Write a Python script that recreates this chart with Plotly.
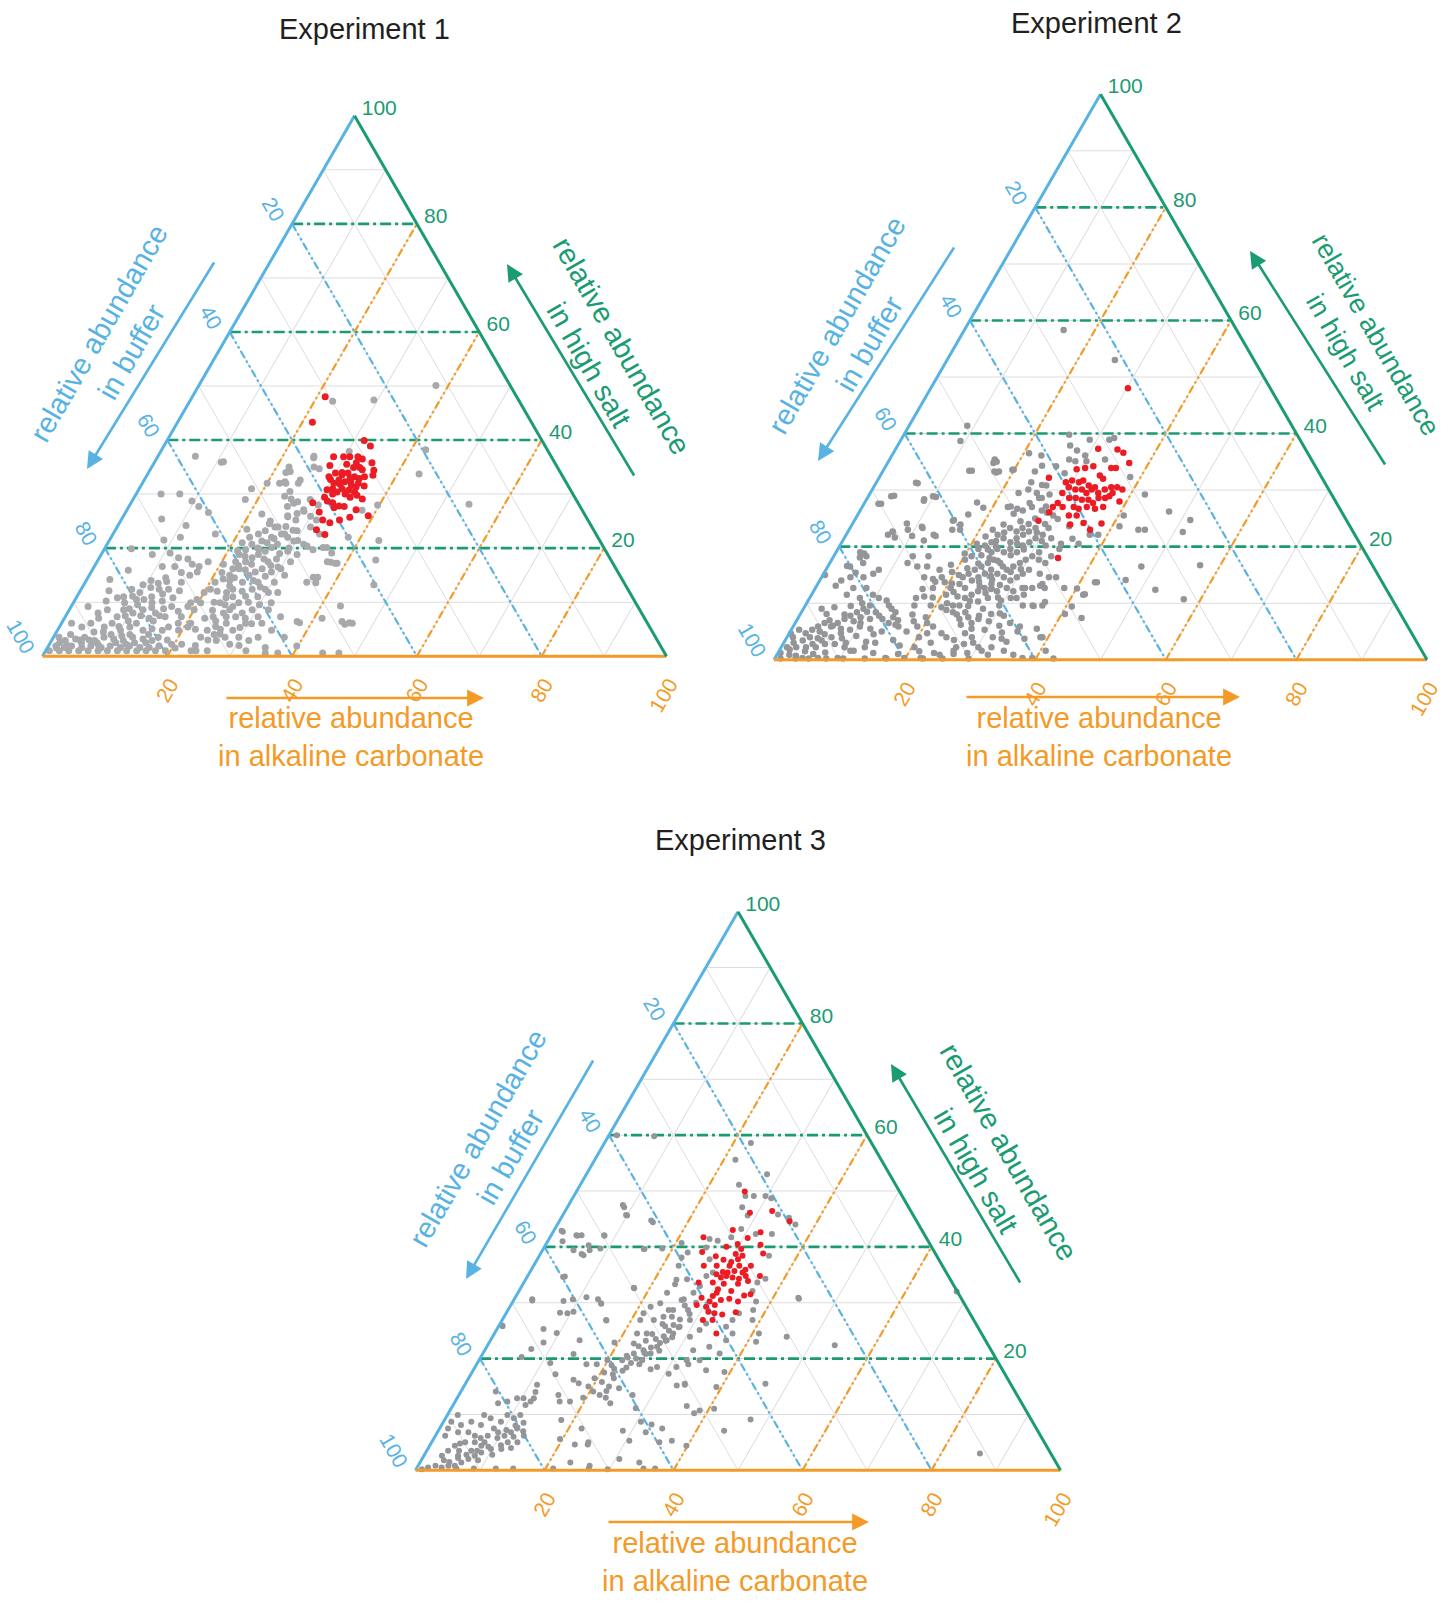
import plotly.graph_objects as go

W, H = 1453, 1607

BLUE = "#58B3E3"
GREEN = "#1B9B72"
ORANGE = "#F39A27"
RED = "#EC1C24"
GREY_LIGHT = "#A7A9AC"
GREY_DARK = "#939598"
GRID = "#DDDDDD"
FONT = "Liberation Sans, Arial, Helvetica, sans-serif"

# ---------------------------------------------------------------- data
# each entry: (relative abundance in high salt, relative abundance in alkaline carbonate)
# buffer is the remainder to 100

GUIDE_LEVELS = [20, 40, 60, 80]
GRID_TICKS = [0, 10, 20, 30, 40, 50, 60, 70, 80, 90]
BUFFER_TICK_TEXT = [str(100 - v) if v % 20 == 0 else "" for v in GRID_TICKS]
CARBONATE_TICK_TEXT = [str(100 - v) if v % 20 == 0 else "" for v in GRID_TICKS]
SALT_TICK_TEXT = [str(100 - v) if v % 20 == 0 else "" for v in GRID_TICKS]

EXP1_GREY = [
    (37, 6), (36, 11), (35, 22), (34, 22), (37, 25), (32, 22), (32, 23), (32, 25), (35, 26), (32, 20),
    (31, 18), (29, 18), (30, 4), (30, 7), (28.7, 9.6), (27.7, 11.2), (26.6, 13.3), (25.4, 6.4), (24.2, 10.9),
    (22.6, 16.4), (21.5, 8.7), (22, 11.1), (26.3, 22), (24.5, 24.1), (23.9, 25.3), (29.6, 24), (27.7, 25.4),
    (28.3, 26.1), (26.4, 27.6), (29, 28.4), (28, 30.2), (25.8, 26.4), (26.8, 28.5), (25.2, 31.3), (23.2, 29.2),
    (23.9, 31), (22.6, 33.1), (22.6, 27.5),
    (22.6, 23.3), (23.2, 24.1), (22, 25.7), (21.3, 24.5), (20.7, 23.2), (19.7, 22.7), (18.8, 22.1), (17.5, 22.2),
    (16.2, 22.4), (15, 22.5), (14.3, 21.8), (13.7, 20.8), (12.4, 20.7), (16.2, 23.4), (17.5, 23.8), (18.2, 24.5),
    (18.8, 25.2), (19.4, 26), (20.1, 26.7), (20.7, 27.3), (17.5, 27.4), (16.2, 27.1), (15.6, 26.3), (15, 25.6),
    (13.7, 25.2), (12.4, 24.3), (11.8, 23.6), (9.9, 23.5), (8.6, 25.7), (7.3, 27.3), (6.1, 26.4), (4.8, 28.1),
    (4.1, 26.4), (3.5, 29.7), (2.2, 28.9), (2.9, 26.4), (1, 25.9), (1, 32.1), (1.6, 34.9), (6.1, 32.1),
    (9.9, 31.7), (11.8, 31.8), (12.4, 29.5), (15, 31.3), (17.5, 31), (18.8, 31.4), (19.4, 29.6), (20.7, 31.5),
    (21.3, 29.6), (16.2, 30.1), (13.7, 30.3), (11.8, 30.3), (13.7, 27.7), (12.4, 27.4), (11.1, 27), (9.9, 26.5),
    (9.2, 25.9), (8.6, 29.3), (6.1, 29.5), (4.8, 34.3), (3.5, 32.8), (2.9, 31.6), (8, 25), (7.3, 23.7), (4.8, 24),
    (3.5, 23.6), (8.6, 20), (6.1, 20.7), (9.9, 20.4), (11.8, 20), (10.5, 19.5), (9.2, 18.7), (7.3, 18.6),
    (4.8, 19.4), (2.2, 19.6), (2.2, 21.2), (1, 23.3), (1, 24.1),
    (19.9, 4.3), (18.8, 8.2), (19.1, 10.9), (18.2, 12.7), (18, 14.3), (16.6, 10.9), (15.9, 5.8), (16.6, 12.9),
    (16.6, 16.8), (15.6, 17), (17.5, 17.8), (14, 10.4), (13.8, 13), (13.7, 15.4), (15, 16.1), (14.2, 3.7),
    (12.1, 4.6), (12.4, 8.1), (11.1, 8.9), (11.8, 9.7), (12.7, 11), (12.4, 12.5), (12.4, 14), (12.1, 15.9),
    (10.2, 5.1), (10.8, 6.6), (9.9, 8.2), (10.5, 9.8), (9.9, 12.6), (10.2, 14.1), (9.2, 16.1), (8.3, 17.6),
    (9.9, 18.8), (9.2, 2.7), (8, 4.9), (8.6, 6.1), (7.3, 8.3), (8.6, 8.7), (8, 10.5), (8.6, 11.8), (7, 13.6),
    (8, 14.1), (7.3, 16), (6.1, 1.6), (5.4, 3.6), (6.1, 4.7), (5.4, 7.2), (6.1, 8.1), (4.8, 10.1), (5.4, 11.3),
    (6.1, 12), (4.8, 13.7), (5.1, 15), (4.8, 16.8), (5.4, 17.5), (6.1, 18.7), (5.4, 20.6),
    (3.5, 0.9), (2.9, 2.2), (3.2, 3.7), (3.5, 5), (2.9, 6.9), (3.5, 8.1), (3.2, 9.8), (2.9, 11.5), (3.5, 12.7),
    (3.2, 14.5), (2.9, 16.1), (1.9, 1.2), (1.6, 2.7), (1.9, 3.7), (1.6, 5.5), (1.9, 6.8), (1.6, 8.6), (1.9, 9.9),
    (1.6, 11.7), (1.9, 13), (1.6, 14.8), (1.6, 16.3), (1.9, 17.7), (1, 0.6), (1, 2.2), (1, 3.7), (1, 5.3),
    (1, 6.8), (1, 8.4), (1, 9.9), (1, 11.5), (1, 13), (1, 14.6), (1, 16.1), (1, 17.6), (1, 19.2),
    (2.5, 1.5), (4, 2.5), (3, 4.5), (4.5, 6), (2.5, 7.5), (4, 9), (2.5, 10.5), (4, 12), (2.5, 13.5), (4, 15),
    (7, 5.5), (7.5, 9.5), (9, 13), (11, 12), (3, 18.5), (1.5, 20.5), (5, 22), (7, 22.5), (10, 22.5), (12, 22),
    (14, 23), (17, 25), (18, 26.5), (20, 24.5), (21, 25.5), (16, 24.5), (13, 23.5), (11, 25), (10, 28), (8, 28),
    (6, 30.5), (5, 26), (3, 25), (2, 23.5), (3.5, 27.5), (2, 30.5), (17, 20.5), (19.5, 21.5), (21, 21.5),
    (23.5, 21), (25, 24), (24, 27), (20, 29.5), (18, 28.5), (16.5, 29.5),
    (1.5, 1.5), (2, 3), (2.5, 5), (3, 6), (2, 8), (4.5, 7.5), (3.8, 10.8), (2.2, 12.3), (5.5, 9.5), (6.5, 10.5),
    (7.5, 12), (6.5, 14.5), (3.5, 16.8), (2.5, 15.3), (7.5, 15), (8.8, 15), (10.8, 15.5), (11.5, 13.5),
    (10.5, 11), (9.5, 10.5), (8.8, 9.5), (11, 7.5), (13.2, 9.5), (13.5, 11.8), (14.5, 12.5), (15.5, 14.5),
    (17, 15.5), (15.5, 21), (14.5, 23.5), (16.8, 23), (18.5, 23.2), (19.8, 24.8), (21.8, 26.2), (22, 22.2),
    (14, 26.8), (12, 26), (10.8, 24), (9.5, 24.5), (8.5, 23), (7.3, 25.8), (6.5, 24.5), (5.5, 25), (4, 25.5),
    (5.3, 29), (7, 29), (9.5, 30), (11, 29), (12.8, 28.5), (14.8, 28.3), (16.8, 28.2), (19, 28.5),
    (0.6, 35.4), (0.6, 37.4), (1.9, 39.8), (0.6, 44.6), (0.6, 47.2), (6.4, 37.6), (7, 41.3), (6.4, 44.8),
    (6.2, 46.1), (17.4, 37.5), (17.2, 38.3), (14.6, 36.1), (13.7, 35.5), (20.1, 34.9), (7.3, 30.9), (8.6, 31.9),
    (3.5, 37), (7.3, 34.5), (15.6, 28.9),
    (47.2, 22.9), (47.4, 29.4), (50.1, 38), (38.2, 42.3), (33.7, 43.5), (28.1, 54.3), (28, 39.7), (36.7, 25.1),
    (34.7, 27), (34.2, 22.6), (32.6, 25), (32.3, 22.7), (30.5, 24.4), (29.1, 25.3), (28.6, 26.6), (27.1, 28.3),
    (26, 26.3), (25.2, 28), (25.9, 30), (37.9, 30.2), (27, 37.7), (22, 38), (21.4, 43.2), (17.8, 44.5),
    (13.2, 46.5), (9.3, 43.1), (5.9, 45.5), (6.1, 46.6), (6.2, 38.1), (13.6, 37), (14.6, 36.8),
    (17.5, 36.9), (17.2, 38.6), (19.1, 36.8), (21.4, 30.2), (20.4, 32.2), (19.7, 33.5), (20.1, 35.5), (22, 28.3),
    (23.3, 28.5), (23.9, 25.8), (22.6, 27), (35.9, 10.7),
]

EXP1_RED = [
    (48, 21.3), (43.3, 21.6), (39.9, 31.6), (38.9, 33.1), (36.9, 28.2), (36.9, 29.8), (36.9, 30.8), (36.9, 32.1),
    (36.5, 33), (35.8, 34.9), (34.4, 35.9), (34.9, 32.4), (34.9, 33.4), (35.8, 32.4), (35.3, 28.4), (33.9, 30),
    (33.6, 31.2), (33.9, 32), (33.2, 33.4), (32.9, 34.3), (33.2, 35), (33.2, 29.3), (32, 30.7), (32.6, 31.2),
    (32.3, 32.3), (31.6, 33.7), (31.3, 34.6), (31, 32.5), (30.7, 33.7), (30.4, 34.8), (32, 34.6), (31, 31),
    (30.4, 32), (30, 33.5), (29.4, 34.6), (29.1, 36.7), (29.4, 30.5), (28.7, 31.3), (28.4, 32.3), (28.4, 29.1),
    (27.5, 33), (27.8, 33.6), (27.7, 34.5), (27.1, 36.7), (26.7, 31), (25.2, 32.3), (24.7, 33.7), (25.2, 35),
    (25.7, 36.4), (26, 39.2), (23.4, 32.2), (22.5, 34), (34, 31), (33, 32.8), (32.4, 33.2), (31.8, 31.8),
    (30.8, 30.2), (34.5, 34), (35.5, 31), (32.7, 29.8), (30, 31.5), (31.5, 35.8), (29.8, 35.5), (33.5, 36.2),
]

EXP2_GREY = [
    (41.4, 8.9), (38.7, 9.2), (35.3, 16.2), (33.1, 17.5), (33.4, 13.2), (33.6, 19.9), (36.5, 20.8), (36.1, 22.9),
    (33.3, 23.3), (31.4, 23.7), (30.9, 25.6), (31.3, 6.1), (28.9, 3.5), (27.6, 2.2), (28.4, 8.8), (28.9, 9.9),
    (29.5, 22.7), (27.1, 22.7), (25.8, 23.8), (26.4, 24.9), (27.7, 25.3), (28.6, 26.3), (27.1, 28.1), (25.7, 16.9),
    (24.6, 15.1), (23.9, 16.6), (23, 15.8), (24.1, 8.3), (23.5, 10.9), (22.1, 13.4), (21.1, 12.4), (22.1, 6.4),
    (22.7, 6.8),
    (23.9, 23.2), (23.3, 24.5), (22.7, 25.8), (23.3, 26.4), (22.1, 23.2), (21.5, 24.4), (20.8, 25.8), (21.5, 26.4),
    (22.1, 27.1), (22.7, 27.7), (23.3, 28.4), (20.8, 22.9), (20.2, 22.2), (19.6, 21.5), (18.3, 21.1), (17.7, 20.4),
    (19, 23.8), (19.6, 24.4), (19, 25.7), (19.6, 26.4), (19, 27.7), (20.2, 28), (20.8, 28.7), (21.5, 29.3),
    (22.1, 30.1), (23.3, 30.4), (21.5, 31.7), (20.2, 31.5), (19, 31.1), (18.3, 30.4), (17.7, 29.7), (17.1, 29.1),
    (16.5, 28.4), (15.9, 27.7), (17.1, 26.1), (17.7, 24.8), (17.1, 24.2), (16.5, 23.5), (15.9, 22.8), (15.2, 22.2),
    (14.6, 21.6), (13.4, 21.7), (12.7, 22.9), (14, 23.3), (14.6, 24), (15.2, 24.7), (15.9, 25.3), (15.2, 26.6),
    (14.6, 27.9), (14, 29.2), (14.6, 29.9), (15.2, 30.5), (15.9, 31.1), (13.4, 26.6), (12.7, 25.9), (12.1, 25.2),
    (11.5, 24.5), (10.9, 23.8), (9.6, 23.6), (10.3, 26.1), (10.9, 27.3), (12.1, 28.1), (12.7, 29.3), (12.1, 30.6),
    (10.9, 31.7), (12.7, 31.7), (17.7, 31.7), (17.1, 33), (14.6, 34.8), (13.4, 34.4), (12.7, 33.2), (18.3, 33.3),
    (15.9, 17.4), (14.6, 18.4), (12.7, 20.7), (13.7, 19.3), (14.3, 17.2), (14.6, 15.7), (16.5, 13.7), (17.1, 11.9),
    (18.3, 12.1), (16.5, 15.2), (18.3, 14.5), (12.7, 18), (11.2, 17.4), (10.9, 16.3), (9.6, 16.7), (9.6, 19.2),
    (9.3, 21), (9.6, 22.6), (11.5, 20.6), (8.4, 23.2), (7.2, 24.8), (8.4, 25.1), (6.5, 27), (7.2, 27.7),
    (5.3, 29.6), (8.1, 29.2), (9.6, 29.7), (7.8, 31.3), (6.5, 32.9), (5.9, 34.7), (9.6, 33.3), (9.6, 34.8),
    (13.1, 34.2), (9.6, 36.3), (4, 38.8), (1.6, 40.8), (0.3, 39.4), (0.3, 37.9), (0.9, 36.2), (1.6, 34.4),
    (2.2, 32.2), (0.9, 32.3), (2.2, 30.2), (4, 28.3), (4.7, 26.9), (2.2, 26.8), (4, 24.4), (4.7, 23.3),
    (5.9, 21.4), (6.5, 20.2), (0.9, 24.9), (0.3, 22.3), (0.3, 19.8), (0.3, 16.9), (2.2, 20.4), (4.7, 21.1),
    (5.9, 19), (5.9, 16.1),
    (24.5, 25.5), (24, 27), (23, 22), (22.5, 24), (21, 23.5), (20, 24), (19.5, 23), (18.5, 22.5), (18, 24),
    (17.5, 25.5), (18.5, 27), (19.5, 28.5), (20.5, 27), (21, 30.5), (22.5, 29), (24, 29.5), (25, 27.5),
    (25.5, 30), (26, 28.8), (16.5, 26.8), (16, 29.8), (15.5, 28.5), (14.8, 25.8), (14.2, 26.3), (13.8, 24.5),
    (13, 25), (13.2, 28), (12.5, 27), (11.8, 26.5), (11, 28.8), (10.5, 29.5), (11.5, 32.5), (11.2, 22.5),
    (12, 21.5), (13.5, 20.5), (15, 20.8), (16.2, 21.5), (17, 22.8), (18.8, 19.8), (20.5, 20.8), (21.8, 21.5),
    (16.8, 18.7), (15.5, 19.5), (13.8, 17.8), (12.5, 16.5), (11, 18.8), (10, 21.5), (8.8, 22), (8, 24),
    (7.5, 26), (6.2, 25.5), (5.5, 27.5), (6.8, 29.5), (7.8, 27.5), (9, 27.5), (9.5, 25), (10.4, 24.8),
    (8.2, 30.5), (6, 31.5), (4.8, 32.5), (3.2, 34), (3, 29), (2.8, 27.7), (1.2, 29), (1, 27), (3.5, 25.8),
    (3, 22.5), (1.5, 21.5), (4, 20.2), (6.8, 18), (8, 17.2), (7.5, 19.5), (7, 15.5), (5, 17.8), (3.5, 16.5),
    (2.5, 18), (1.2, 14.6), (1, 18.5), (3, 14), (4.5, 13),
    (4.6, 0.3), (4, 0.9), (5.3, 1.2), (4.7, 2.5), (5.3, 3.2), (5.9, 3.8), (6.5, 4.5), (5.9, 5.8), (6.5, 6.5),
    (7.2, 7.2), (7.8, 7.8), (8.4, 8.5), (9, 9.2), (9.6, 9.9), (8.4, 11.4), (7.2, 13), (6.5, 14.3), (6.2, 15.5),
    (3.4, 2.7), (2.8, 4.5), (3.4, 5.6), (4, 6.8), (4.7, 7.9), (5.3, 9), (5.9, 10.2), (7.2, 11.1), (7.8, 12.2),
    (2.2, 0.9), (2.2, 2.3), (2.2, 3.8), (2.2, 5.3), (2.8, 6.4), (2.8, 7.9), (2.2, 9.7), (1.6, 11.4), (1.2, 0.4),
    (0.9, 1.9), (0.3, 4.2), (0.3, 6.6), (0.3, 9.6), (1.6, 10.9), (9, 2.8), (8.1, 4), (9.3, 4.6), (11.5, 5.4),
    (12.7, 5.8), (10.9, 7.7), (12.7, 7.8), (11.5, 9.4), (10.9, 10.6), (9.6, 12.8), (8.4, 14.4), (14, 3.3),
    (14.6, 4.4), (14.6, 6.4), (15.2, 7.6), (15.9, 8.1), (17.1, 5.1), (16.5, 3.4), (18.3, 5), (19, 3.7),
    (15, 0.3), (13.1, 2.9),
    (3, 1.5), (4, 3.5), (5, 4.5), (6, 6), (7, 5), (8, 6.8), (6.8, 8.8), (5.5, 7.5), (4.5, 5.5), (3.8, 8.5),
    (3, 9.5), (4.2, 10.5), (5.5, 12), (6.5, 10), (7.5, 9.5), (8.5, 10), (9.5, 7), (10, 8.5), (10.5, 12),
    (9, 13.5), (7.5, 14.5), (5, 14), (3.2, 12.5), (2.2, 12.8), (1.3, 7.2), (1, 5.5), (0.7, 3), (1.8, 1.5),
    (1.5, 4), (3.8, 4.8),
    (58.3, 15.2), (53, 25.7), (39.8, 25.3), (38.9, 28.9), (38.9, 31.9), (39.2, 32.5), (37.9, 26.4), (37, 27.9),
    (36.1, 29.6), (35.4, 27.5), (35.4, 33), (35.1, 28.6), (35.1, 30.3), (35.4, 16.1), (34.8, 16.2), (33.3, 17.1),
    (33.6, 19.7), (34.2, 26.1), (33, 28), (30.8, 26.3), (30.1, 23.9), (29.5, 25.5), (29.2, 27.6), (28.6, 26.7),
    (27, 22.3), (26.7, 23.9), (27, 26), (26.4, 27.8), (24.9, 31), (23.6, 33.4), (21.4, 35), (20.5, 36.4),
    (20.5, 33.7), (19.6, 33.9), (22.1, 37.3), (22.1, 38.6), (23.6, 41.1), (25.5, 40.8), (32.3, 38.4),
    (29.2, 42.2), (23, 44.3), (23, 45.3), (26.2, 47.4), (24.7, 51.4), (22.6, 51.3), (16.5, 48), (13.7, 42.3),
    (14.1, 46.8), (12.4, 52.2), (10.7, 57.4), (16.7, 56.9), (11.5, 41.6), (12.7, 38.1), (12.7, 35.1),
    (14.6, 35.9), (15.2, 33.1), (12.7, 32.1), (10.9, 30.8),
    (7.4, 43.4), (9.4, 40.9), (10.2, 36.4), (9.5, 35), (5.5, 37.5), (4, 39.1), (0.2, 42.7), (8.1, 40.5),
    (13.7, 42.6), (11.6, 41.8), (12.6, 40.1), (5, 34.8), (3.7, 36.5), (3.7, 33), (4, 31.5), (1.6, 31),
    (0.2, 29.7), (1.6, 26.7), (0.2, 25.7), (1.2, 23.9), (0.2, 22.7), (0.2, 17.1), (0.2, 13.8), (0.2, 10.5),
    (0.2, 7.9), (0.2, 5.2), (0.2, 3.2), (0.2, 0.9), (31.2, 6.4), (29, 3.9), (27.6, 2.6), (28.8, 10.4),
    (28.1, 8.9), (33.4, 13.6), (35, 16.6), (33.3, 17.8), (34.3, 23.9), (27.8, 17.2), (26.9, 18.6), (24.7, 15.2),
    (23, 17), (23, 9), (21.9, 10.2), (23.3, 11.1), (21.9, 13.8), (22.6, 6.9), (21.6, 7.7), (18.8, 4.4),
    (18.1, 4.1), (16.6, 2.9), (15.4, 4.8),
]

EXP2_RED = [
    (48, 30.2), (37.3, 31), (37.2, 34), (34.8, 37), (36.6, 35.2), (33.7, 29.5), (33.9, 30.7), (34.2, 31.8),
    (33.9, 34.7), (33.9, 35.4), (32.2, 26), (32.6, 33.6), (32, 34.4), (31.4, 29), (31.7, 29.8), (31.4, 31),
    (31.7, 31.5), (30.8, 32.8), (30.5, 33.9), (30.5, 29.9), (30.1, 31.1), (30.1, 32.1), (29.5, 33.1),
    (30.1, 33.6), (29.5, 34.9), (30.1, 35.6), (30.5, 36.4), (30.5, 37.3), (30.1, 38.3), (29.5, 37.1),
    (29.5, 29.4), (28.6, 30.9), (28.6, 31.9), (28.3, 33), (28.3, 34), (27.7, 35), (28.6, 35.4), (28.6, 36.4),
    (28.9, 36.9), (28, 38.9), (27.7, 29.6), (27, 29.2), (26.1, 29.1), (27, 30.7), (27, 32.4), (26.7, 33.3),
    (27, 34.4), (26.7, 35.8), (27, 36.9), (25.5, 32.4), (25.5, 33.6), (24.6, 28.2), (23.9, 33.4), (24.2, 35.3),
    (23, 36.9), (24.1, 38.1), (18, 34.5),
]

EXP3_GREY = [
    (60, 1.2), (59.8, 7.1), (58.6, 22.7), (55.6, 21.8), (53, 28), (51.1, 24.6), (49.1, 26.6), (49.1, 27.9),
    (49.1, 29.7), (48.7, 30.8), (47.1, 27.1), (45.6, 28.7), (45.8, 33.3), (45.2, 35.3), (44, 36.9), (43.2, 28.9),
    (41.7, 28.1), (42.3, 34.1), (42.3, 31.6), (41.4, 24.9), (41.1, 26.3), (38.4, 35.6), (34.3, 37.1),
    (33.6, 36.2), (32.1, 36.2), (30.2, 37.7), (28.7, 38), (24.5, 41), (23.9, 45.6), (30.9, 43.9), (22.4, 53.8),
    (23, 41.3), (15.5, 46.5), (9.1, 47.4), (24.5, 36.9), (23.3, 36.5), (17.6, 39.1), (14.9, 39.2), (10.7, 38.7),
    (11.5, 36.3), (15.2, 32.9), (15.5, 34), (17.3, 30.6), (18.5, 28.2), (19.7, 25.3), (20.9, 23.4), (20.2, 22.8),
    (19.7, 22.2), (18.2, 21.7), (19.7, 19.9), (42, 8.3), (29.9, 13.8), (26.9, 16.1), (47.1, 8.8), (45.6, 10),
    (32.7, 17.5), (39.6, 15.6), (40.7, 20.9), (44.4, 14.6), (34.1, 23.4), (33.3, 23.6), (34.2, 25),
    (31.8, 23.1), (29.9, 23), (29.3, 21.8), (28.1, 21.3), (26.9, 21.4), (26.9, 23.5), (27.5, 24.7), (28.7, 25.6),
    (30.6, 26.3), (31.8, 27.2), (33, 27.6), (26.9, 29.1), (25.7, 28.1), (24.5, 27.7), (23.3, 27.3), (22.1, 26.4),
    (20.9, 26), (21.5, 24.6), (24.5, 23.6), (24.5, 22.1), (22.7, 22.5), (23.9, 30.6), (25.1, 31.5), (26.3, 31.9),
    (36.6, 22.5), (38.1, 22.2), (39, 22.7), (39.9, 25.1), (37.8, 26.7), (34.8, 27.7), (35.4, 28.4), (19.7, 34.2),
    (17.9, 36.1), (19.7, 32.2), (18.5, 31.2), (21.5, 32.3), (22.1, 34.5), (20.9, 36.7), (25.7, 35.3),
    (26.9, 35.7), (28.1, 36.1), (26.9, 38.8),
    (42.9, 1.2), (42.1, 3.9), (42.1, 4.7), (42.1, 8.2), (40.3, 6.7), (39.6, 15.7), (39.7, 18.4), (47.5, 8.4),
    (45.7, 9.8), (44.7, 14.2), (38.7, 6.4), (34.7, 5.8), (32.6, 17.6), (30.6, 2.8), (30.3, 7.8), (30.6, 9.1),
    (31, 11), (30.6, 13), (29.8, 13.9), (28.2, 8.3), (28.1, 9.5), (28.4, 10.3), (26.8, 16.2), (25.8, 0.6),
    (25.3, 7.2), (24.6, 9.6), (22.9, 8.4), (23.3, 13.8), (22.9, 19.4), (21.7, 7.1), (20.3, 6.3), (19.2, 11.3),
    (20.8, 14.1), (19, 17), (19, 18.6), (17.2, 13.1), (16.2, 16.4), (15.6, 17.5), (15, 19.3), (14.1, 20.5),
    (13.5, 21.8), (15.3, 11.2), (14, 11.6), (13.5, 15.4), (12.3, 16.2), (12.3, 17.8), (14.1, 5.4), (12, 6.8),
    (12.3, 8.1), (12.9, 9.3), (12.9, 10.3), (12.9, 11.9), (11.7, 11.2), (12.3, 11.7), (9.9, 11.3), (9.3, 10.6),
    (9.9, 9.3), (8.7, 8.9), (7.5, 8.4), (6.2, 8.1), (5, 8.2), (6.8, 9.4), (6.2, 10.7), (6.8, 11.4), (7.5, 12),
    (6.2, 13.7), (5, 13.3), (5, 11.8), (3.8, 11.4), (3.8, 9.8), (3.2, 8.6), (2.6, 7.9), (2, 7.2), (1.4, 6.4),
    (0.8, 5.7), (0.8, 4.7), (0.5, 3.8), (0.8, 2.7), (0.5, 1.7), (0.2, 0.9), (6.2, 1.5), (7.5, 1.3), (6.8, 3.2),
    (8.1, 3), (6.8, 4.8), (6.2, 6.1), (5, 6.7), (5, 5.2), (4.4, 3.9), (3.5, 3.3), (2.6, 2.8), (2.6, 5.3),
    (3.5, 6.9), (4.4, 8), (8.7, 1.2), (9.9, 1.6), (8.7, 4.3), (9.9, 5.7), (9.3, 7), (8.1, 6.1), (9, 18.1),
    (7.5, 22), (5, 24.3), (5.6, 19.6), (1.4, 23.3), (0.8, 26.6), (0.2, 29.7), (2, 30.6), (1.4, 34), (5, 35.3),
    (7.5, 34.5), (6.8, 32.3), (11.1, 28.6), (13.5, 26.9), (14.7, 24.2), (17.2, 22), (19, 25.2), (18.4, 23.5),
    (18.1, 27.4), (21.4, 27.1), (23.8, 27.9), (26.2, 25.2), (28.7, 24.9), (30.5, 26), (28.7, 27.9), (25.6, 28),
    (23.2, 24.1), (24.4, 24.5), (23.2, 27.2), (20.8, 25.3), (19, 32.8), (15.3, 34.1),
    (1.5, 4.5), (2.2, 5.5), (1.8, 3.5), (2.8, 6.5), (3.5, 5), (4.8, 4.5), (5.8, 7.2), (4.2, 9.2), (4.5, 11),
    (5.8, 9.8), (7.2, 10.5), (8, 11.5), (8.5, 12.5), (7, 13.2), (6, 12.2), (4, 12.8), (3.5, 7.8), (2.8, 10.5),
    (1.8, 8.8), (20, 24.2), (21, 25), (22, 25.5), (22.8, 26.5), (24, 26.5), (25, 26.8), (26, 27), (27, 27.5),
    (28, 28.5), (29.5, 27), (30, 28.5), (27.5, 26), (25.8, 25.8), (23.5, 25.5), (22.2, 23.5), (20.5, 22.5),
    (18.8, 21), (17.5, 20.5), (16.5, 19.5), (15.8, 21), (16.5, 22.5), (17.8, 23.2), (19.2, 23.8), (15, 22.5),
    (14.2, 22.5), (13, 23), (12, 24.2), (13, 19.5),
    (30.7, 44.1), (32, 67.9), (7.1, 44.3), (11, 40.8), (3, 86), (4.4, 39.8), (10.2, 38.1), (5.3, 37.1),
    (0.3, 37), (0.3, 35.2), (0.3, 26.7), (0.3, 21.2), (0.3, 15), (0.3, 12.3), (0.3, 8.9), (0.3, 6.2),
    (4.6, 24.4), (4.6, 22.4), (5.3, 30.5), (7.1, 28.6), (8.7, 30.6), (8.2, 32.5), (42.7, 1.5), (41, 2.3),
    (42, 4.1), (39.4, 7.3), (39.7, 8.8), (38.5, 6.8), (39.4, 4.8), (34.6, 5.6), (30.4, 2.9), (25.9, 0.5),
]

EXP3_RED = [
    (49.9, 26.1), (46.1, 28.8), (46.4, 32.1), (44.6, 35.7), (43, 27.7), (42.6, 32.2), (41.7, 23.8), (41.6, 30.7),
    (40, 28.2), (40.5, 29.7), (40.4, 33.3), (39.1, 24.9), (39.6, 30.7), (38.7, 30.3), (38.4, 31.5), (38.8, 34.5),
    (38.3, 27.4), (37.7, 28.9), (37.3, 30.3), (37.8, 31.1), (36.6, 26.4), (36.6, 28.4), (36.6, 30.4),
    (36.6, 31.9), (36.6, 33.7), (35.9, 33.2), (35.5, 29.9), (35.4, 30.7), (35.7, 31.6), (35.4, 33), (35.1, 29.1),
    (34.5, 30.1), (34.8, 30.8), (34.5, 31.9), (34.3, 33), (34.8, 33.8), (34.8, 36), (33.6, 27.1), (33.6, 29.3),
    (33.4, 31.1), (33.4, 33.3), (33.9, 34.6), (32.4, 30.7), (32.1, 32.9), (31.5, 36.2), (31.3, 35.3),
    (31.8, 30.8), (31.2, 30.5), (30.9, 28.9), (30.2, 30.5), (30.5, 32.1), (30.7, 33.3), (30.2, 34.9),
    (29.6, 28.8), (29.3, 30.4), (29.6, 31.6), (28.4, 31.2), (28.1, 32.3), (27.9, 33.6), (28.3, 35.5),
    (26.9, 31.1), (26.9, 32.6), (24.5, 34.4),
]

AXIS_TITLE_BUFFER = "relative abundance<br>in buffer"
AXIS_TITLE_SALT = "relative abundance<br>in high salt"
AXIS_TITLE_CARBONATE = "relative abundance<br>in alkaline carbonate"

# ---------------------------------------------------------------- layout helpers


def page(x, y):
    """page pixel -> paper fraction"""
    return x / W, 1 - y / H


def ternary_domain(cx, cy, width):
    h = width * 3 ** 0.5 / 2
    return dict(x=[(cx - width / 2) / W, (cx + width / 2) / W],
                y=[1 - (cy + h / 2) / H, 1 - (cy - h / 2) / H])


def axis(text, color, angle, line_color):
    return dict(
        tickmode="array", tickvals=GRID_TICKS, ticktext=text,
        tickfont=dict(color=color, size=21, family=FONT), tickangle=angle,
        ticks="outside", ticklen=6, tickcolor="rgba(0,0,0,0)",
        showline=True, linecolor=line_color, linewidth=3,
        showgrid=True, gridcolor=GRID, gridwidth=1, min=0,
        title=dict(text=""),
    )


def ternary_layout(cx, cy, width):
    return dict(
        domain=ternary_domain(cx, cy, width),
        sum=100,
        bgcolor="white",
        aaxis=axis(BUFFER_TICK_TEXT, BLUE, 60, BLUE),
        baxis=axis(CARBONATE_TICK_TEXT, ORANGE, -60, ORANGE),
        caxis=axis(SALT_TICK_TEXT, GREEN, 0, GREEN),
    )


def guide_traces(subplot):
    traces = []
    # constant high salt (horizontal)
    a, b, c = [], [], []
    for v in GUIDE_LEVELS:
        a += [v, v, None]
        b += [100 - v, 0, None]
        c += [0, 100 - v, None]
    traces.append(go.Scatterternary(a=a, b=b, c=c, mode="lines", subplot=subplot,
                                    line=dict(color=GREEN, width=2.6, dash="11px,4px,3px,4px"),
                                    hoverinfo="skip", showlegend=False))
    # constant buffer
    a, b, c = [], [], []
    for v in GUIDE_LEVELS:
        a += [100 - v, 0, None]
        b += [v, v, None]
        c += [0, 100 - v, None]
    traces.append(go.Scatterternary(a=a, b=b, c=c, mode="lines", subplot=subplot,
                                    line=dict(color=BLUE, width=2.2, dash="8px,3px,2.5px,3px,2.5px,3px"),
                                    hoverinfo="skip", showlegend=False))
    # constant alkaline carbonate
    a, b, c = [], [], []
    for v in GUIDE_LEVELS:
        a += [0, 100 - v, None]
        b += [100 - v, 0, None]
        c += [v, v, None]
    traces.append(go.Scatterternary(a=a, b=b, c=c, mode="lines", subplot=subplot,
                                    line=dict(color=ORANGE, width=2.2, dash="8px,3px,2.5px,3px,2.5px,3px"),
                                    hoverinfo="skip", showlegend=False))
    return traces


def point_trace(points, subplot, color, size):
    salt = [p[0] for p in points]
    carb = [p[1] for p in points]
    buff = [max(0.0, 100 - s - c) for s, c in points]
    return go.Scatterternary(a=salt, b=buff, c=carb, mode="markers", subplot=subplot,
                             marker=dict(color=color, size=size, line=dict(width=0)),
                             cliponaxis=False, showlegend=False,
                             hovertemplate="salt %{a:.1f}<br>buffer %{b:.1f}<br>carbonate %{c:.1f}<extra></extra>")


# ---------------------------------------------------------------- figure
EXPERIMENTS = [
    dict(name="Experiment 1", subplot="ternary", grey=EXP1_GREY, red=EXP1_RED, grey_color=GREY_LIGHT, size=7,
         center=(354.5, 386), width=624, title=(364, 29), title_size=29,
         buffer_title=(115, 343), salt_title=(605, 355), carb_title=(351, 737),
         buffer_arrow=((215, 261), (87, 469)), salt_arrow=((635, 477), (507, 264)),
         carb_arrow=((225, 698), (484, 698))),
    dict(name="Experiment 2", subplot="ternary2", grey=EXP2_GREY, red=EXP2_RED, grey_color=GREY_DARK, size=6.5,
         center=(1100.5, 377), width=653, title=(1096, 23), title_size=27,
         buffer_title=(853, 335), salt_title=(1361, 343), carb_title=(1099, 737),
         buffer_arrow=((955, 246), (818, 461)), salt_arrow=((1386, 466), (1250, 251)),
         carb_arrow=((965, 697), (1240, 697))),
    dict(name="Experiment 3", subplot="ternary3", grey=EXP3_GREY, red=EXP3_RED, grey_color=GREY_DARK, size=6,
         center=(738, 1191), width=645, title=(740, 840), title_size=29,
         buffer_title=(494, 1148), salt_title=(992, 1161), carb_title=(735, 1562),
         buffer_arrow=((594, 1059), (466, 1279)), salt_arrow=((1021, 1284), (891, 1064)),
         carb_arrow=((607, 1522), (869, 1522))),
]

fig = go.Figure()
annotations = []
layout_ternaries = {}

for exp in EXPERIMENTS:
    sp = exp["subplot"]
    for tr in guide_traces(sp):
        fig.add_trace(tr)
    fig.add_trace(point_trace(exp["grey"], sp, exp["grey_color"], exp["size"]))
    fig.add_trace(point_trace(exp["red"], sp, RED, exp["size"]))
    layout_ternaries[sp] = ternary_layout(*exp["center"], exp["width"])

    x, y = page(*exp["title"])
    annotations.append(dict(text=exp["name"], x=x, y=y, xref="paper", yref="paper", showarrow=False,
                            xanchor="center", yanchor="middle",
                            font=dict(size=29, color="#231F20", family=FONT)))
    for key, txt, color, angle in [("buffer_title", AXIS_TITLE_BUFFER, BLUE, -60),
                                   ("salt_title", AXIS_TITLE_SALT, GREEN, 60),
                                   ("carb_title", AXIS_TITLE_CARBONATE, ORANGE, 0)]:
        size = exp["title_size"] if key == "salt_title" else 29
        x, y = page(*exp[key])
        annotations.append(dict(text=txt, x=x, y=y, xref="paper", yref="paper", showarrow=False,
                                xanchor="center", yanchor="middle", textangle=angle,
                                font=dict(size=size, color=color, family=FONT)))
    for key, color in [("buffer_arrow", BLUE), ("salt_arrow", GREEN), ("carb_arrow", ORANGE)]:
        (tx, ty), (hx, hy) = exp[key]
        x, y = page(hx, hy)
        annotations.append(dict(text="", x=x, y=y, xref="paper", yref="paper", showarrow=True,
                                ax=tx - hx, ay=ty - hy, axref="pixel", ayref="pixel",
                                arrowhead=2, arrowsize=1.3, arrowwidth=2.6, arrowcolor=color,
                                standoff=0, startstandoff=0))

fig.update_layout(
    width=W, height=H, autosize=False,
    margin=dict(l=0, r=0, t=0, b=0),
    paper_bgcolor="white", plot_bgcolor="white",
    font=dict(family=FONT),
    annotations=annotations,
    showlegend=False,
    **layout_ternaries,
)

fig.write_html("out.html")
